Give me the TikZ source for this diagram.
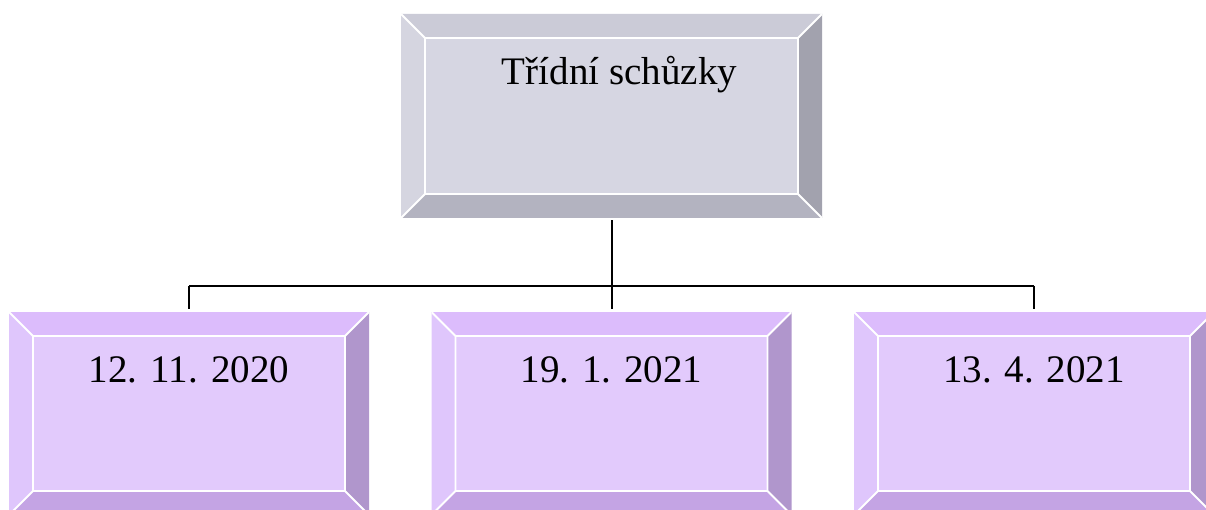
\documentclass[tikz,border=0pt]{standalone}
\usepackage{fontspec}
\setmainfont{Liberation Serif}
\usetikzlibrary{calc}

\definecolor{greytop}{RGB}{203,203,215}
\definecolor{greyleft}{RGB}{213,213,224}
\definecolor{greyface}{RGB}{214,214,226}
\definecolor{greyright}{RGB}{162,162,174}
\definecolor{greybottom}{RGB}{179,179,192}
\definecolor{lilactop}{RGB}{220,188,252}
\definecolor{lilacleft}{RGB}{223,198,252}
\definecolor{lilacface}{RGB}{226,202,252}
\definecolor{lilacright}{RGB}{176,150,204}
\definecolor{lilacbottom}{RGB}{196,164,228}

\tikzset{
  bevelbox/.style n args={5}{rectangle, inner sep=0pt,
    font=\fontsize{39}{47}\selectfont,
    path picture={
      \path (path picture bounding box.north west) coordinate (o1)
            (path picture bounding box.north east) coordinate (o2)
            (path picture bounding box.south east) coordinate (o3)
            (path picture bounding box.south west) coordinate (o4);
      \path ([shift={(24pt,-24pt)}]o1) coordinate (i1)
            ([shift={(-24pt,-24pt)}]o2) coordinate (i2)
            ([shift={(-24pt,24pt)}]o3) coordinate (i3)
            ([shift={(24pt,24pt)}]o4) coordinate (i4);
      \fill[#1] (o1) -- (o2) -- (i2) -- (i1) -- cycle;
      \fill[#2] (o1) -- (i1) -- (i4) -- (o4) -- cycle;
      \fill[#4] (o2) -- (o3) -- (i3) -- (i2) -- cycle;
      \fill[#5] (o4) -- (i4) -- (i3) -- (o3) -- cycle;
      \fill[#3] (i1) rectangle (i3);
      \draw[white, line width=1.8pt] (i1) -- (i2) -- (i3) -- (i4) -- cycle
        (o1) -- (i1) (o2) -- (i2) (o3) -- (i3) (o4) -- (i4);
    }},
  greybox/.style={bevelbox={greytop}{greyleft}{greyface}{greyright}{greybottom},
    minimum width=421pt, text height=71pt, text depth=133pt},
  lilacbox/.style={bevelbox={lilactop}{lilacleft}{lilacface}{lilacright}{lilacbottom},
    minimum width=360pt, text height=70pt, text depth=133pt},
}

\begin{document}
\begin{tikzpicture}[x=1pt,y=1pt]
    \useasboundingbox (0,0) rectangle (1206,509);

    \node[greybox] (schuzky) at (611.5,393) {\hspace*{16pt}Třídní schůzky};

    \begin{scope}[every node/.style={lilacbox}]
      \node (d1) at (189,95.5) {12. 11. 2020};
      \node (d2) at (611.5,95.5) {19. 1. 2021};
      \node (d3) at (1034,95.5) {13. 4. 2021};
    \end{scope}

    \coordinate (fork) at (611.5,223);

    \begin{scope}[line width=2pt, shorten >=3pt]
      \draw[shorten <=2pt] (schuzky.south) -- (d2.north);
      \draw[shorten >=0pt] (d1.north |- fork) -- (d3.north |- fork);
      \draw (d1.north |- fork) -- (d1.north);
      \draw (d3.north |- fork) -- (d3.north);
    \end{scope}
  \end{tikzpicture}
\end{document}
